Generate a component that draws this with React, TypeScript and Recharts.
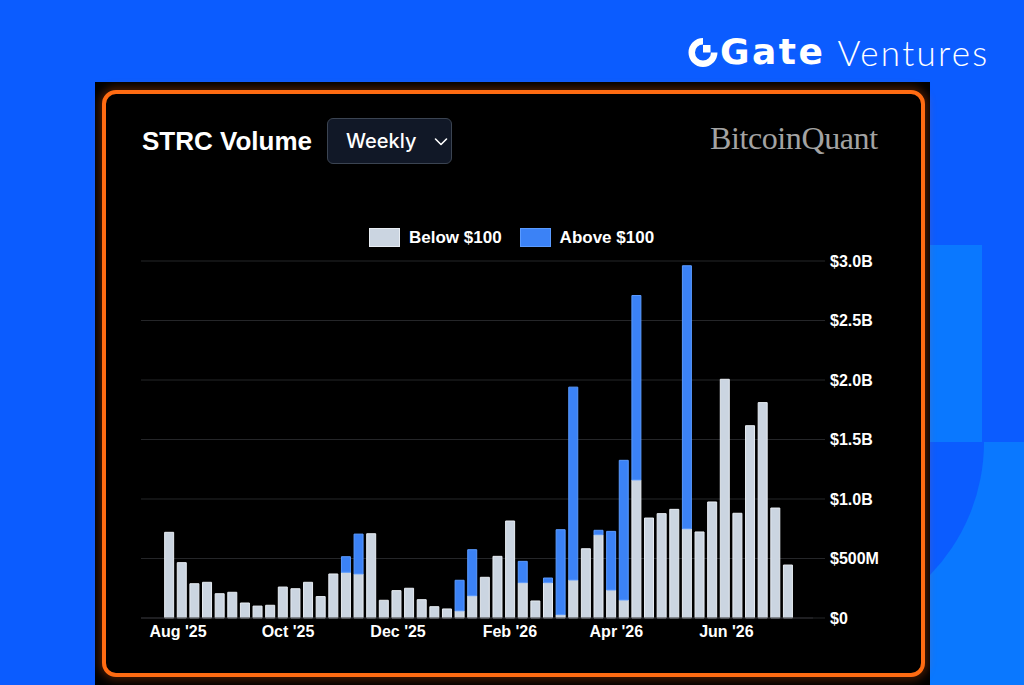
import { Bar, BarChart, CartesianGrid, XAxis, YAxis } from "recharts";

// weekly buckets (week starting), volumes in $M
const weeks = [
  "2025-07-27", "2025-08-03", "2025-08-10", "2025-08-17", "2025-08-24", "2025-08-31", "2025-09-07", "2025-09-14",
  "2025-09-21", "2025-09-28", "2025-10-05", "2025-10-12", "2025-10-19", "2025-10-26", "2025-11-02", "2025-11-09",
  "2025-11-16", "2025-11-23", "2025-11-30", "2025-12-07", "2025-12-14", "2025-12-21", "2025-12-28", "2026-01-04",
  "2026-01-11", "2026-01-18", "2026-01-25", "2026-02-01", "2026-02-08", "2026-02-15", "2026-02-22", "2026-03-01",
  "2026-03-08", "2026-03-15", "2026-03-22", "2026-03-29", "2026-04-05", "2026-04-12", "2026-04-19", "2026-04-26",
  "2026-05-03", "2026-05-10", "2026-05-17", "2026-05-24", "2026-05-31", "2026-06-07", "2026-06-14", "2026-06-21",
  "2026-06-28", "2026-07-05",
];

const belowPar = [
  720, 465, 288, 300, 204, 216, 126, 100, 107, 260, 246, 300, 180, 370, 384, 370,
  708, 149, 230, 250, 154, 95, 76, 60, 187, 342, 518, 815, 297, 143, 297, 28,
  319, 582, 700, 235, 151, 1160, 840, 877, 913, 750, 723, 975, 2006, 880, 1616, 1810,
  924, 445,
];

const abovePar = [
  0, 0, 0, 0, 0, 0, 0, 0, 0, 0, 0, 0, 0, 0, 131, 335,
  0, 0, 0, 0, 0, 0, 0, 257, 387, 0, 0, 0, 179, 0, 39, 714,
  1621, 0, 37, 493, 1174, 1550, 0, 0, 0, 2210, 0, 0, 0, 0, 0, 0,
  0, 0,
];

const monthTicks = ["2025-08-01", "2025-10-01", "2025-12-01", "2026-02-01", "2026-04-01", "2026-06-01"];
const valueTicks = [0, 500, 1000, 1500, 2000, 2500, 3000];
const xDomain = ["2025-07-11T12:00:00Z", "2026-07-19T00:00:00Z"];

const series = [
  { key: "below", name: "Below $100", fill: "#cbd5e1", stroke: "#e8edf3" },
  { key: "above", name: "Above $100", fill: "#3b82f6", stroke: "#5b9bff" },
];

const MONTHS = ["Jan", "Feb", "Mar", "Apr", "May", "Jun", "Jul", "Aug", "Sep", "Oct", "Nov", "Dec"];
const ts = (s: string) => new Date(s.length === 10 ? s + "T00:00:00Z" : s).getTime();

const data = weeks.map((w, i) => ({ t: ts(w), below: belowPar[i], above: abovePar[i] }));

function fmtMonth(v: number) {
  const d = new Date(v);
  return `${MONTHS[d.getUTCMonth()]} '${String(d.getUTCFullYear()).slice(2)}`;
}

function fmtVolume(v: number) {
  if (v === 0) return "$0";
  if (v < 1000) return `$${v}M`;
  return `$${(v / 1000).toFixed(1)}B`;
}

const FONT = "'Liberation Sans', Arial, sans-serif";

function GateLogo() {
  return (
    <div style={{ position: "absolute", left: 686, top: 30, height: 44, display: "flex", alignItems: "center" }}>
      <svg width={34} height={34} viewBox="0 0 34 34">
        <path d="M31.5 17.5 A14.5 14.5 0 1 1 17 3 L17 9.5 A8 8 0 1 0 25 17.5 Z" fill="#fff" />
        <rect x={17} y={10} width={7.5} height={7.5} fill="#fff" />
      </svg>
      <span style={{ fontFamily: "'DejaVu Sans', sans-serif", fontWeight: 700, fontSize: 36, color: "#fff", letterSpacing: 2.5, lineHeight: 1 }}>
        Gate
      </span>
      <span style={{ fontFamily: "Lato, sans-serif", fontWeight: 300, fontSize: 35, color: "#fff", letterSpacing: 2.3, marginLeft: 12, lineHeight: 1 }}>
        Ventures
      </span>
    </div>
  );
}

export default function App() {
  return (
    <div style={{ position: "relative", width: 1024, height: 685, overflow: "hidden", background: "#0b5cff", fontFamily: FONT }}>
      <style>{"body{margin:0}"}</style>

      <svg width={94} height={440} style={{ position: "absolute", left: 930, top: 245 }}>
        <defs>
          <clipPath id="lowerCell">
            <rect x={0} y={197} width={94} height={243} />
          </clipPath>
        </defs>
        <rect x={0} y={0} width={52} height={197} fill="#0a78ff" />
        <rect x={0} y={197} width={94} height={243} fill="#0a78ff" />
        <circle cx={-137} cy={197} r={191} fill="#0b5cff" clipPath="url(#lowerCell)" />
      </svg>

      <GateLogo />

      <div style={{ position: "absolute", left: 95, top: 82, width: 835, height: 610, background: "#000" }} />
      <div
        style={{
          position: "absolute",
          left: 102,
          top: 90,
          width: 823,
          height: 587,
          boxSizing: "border-box",
          border: "4px solid #ff6b12",
          borderRadius: 14,
          background: "#000",
          boxShadow: "0 0 9px 3px rgba(255, 96, 16, 0.28)",
        }}
      />

      <div style={{ position: "absolute", left: 142, top: 128, fontSize: 26, lineHeight: "26px", fontWeight: 700, color: "#fff" }}>
        STRC Volume
      </div>

      <div
        style={{
          position: "absolute",
          left: 327,
          top: 118,
          width: 125,
          height: 46,
          boxSizing: "border-box",
          border: "1px solid #3b4452",
          borderRadius: 6,
          background: "#111827",
        }}
      >
        <span style={{ position: "absolute", left: 18, top: 12, fontFamily: "Inter, sans-serif", fontWeight: 500, fontSize: 20, lineHeight: "20px", color: "#fff" }}>
          Weekly
        </span>
        <svg width={14} height={10} style={{ position: "absolute", left: 106, top: 18 }}>
          <polyline points="1.5,2 7,7.5 12.5,2" fill="none" stroke="#fff" strokeWidth={1.6} strokeLinecap="round" strokeLinejoin="round" />
        </svg>
      </div>

      <div style={{ position: "absolute", left: 710, top: 123, fontFamily: "'Liberation Serif', serif", fontSize: 32, lineHeight: "31px", color: "#a3a3a3", letterSpacing: -0.4 }}>
        BitcoinQuant
      </div>

      <div style={{ position: "absolute", left: 369, top: 228, display: "flex", alignItems: "center", height: 19 }}>
        {series.map((s, i) => (
          <div key={s.key} style={{ display: "flex", alignItems: "center", marginLeft: i === 0 ? 0 : 18 }}>
            <div style={{ width: 31, height: 19, boxSizing: "border-box", background: s.fill, border: `1px solid ${s.stroke}` }} />
            <span style={{ marginLeft: 9, fontSize: 17, fontWeight: 700, color: "#fff", lineHeight: "19px" }}>{s.name}</span>
          </div>
        ))}
      </div>

      <div style={{ position: "absolute", left: 120, top: 240 }}>
        <BarChart width={790} height={410} data={data} margin={{ top: 21, right: 17, left: 21, bottom: 2 }}>
          <CartesianGrid vertical={false} stroke="#252629" />
          <XAxis
            dataKey="t"
            type="number"
            domain={[ts(xDomain[0]), ts(xDomain[1])]}
            ticks={monthTicks.map(ts)}
            tickFormatter={fmtMonth}
            allowDataOverflow
            height={30}
            tickLine={false}
            axisLine={{ stroke: "#2c2d30" }}
            tick={{ fill: "#fff", fontSize: 16, fontWeight: 700, fontFamily: FONT }}
          />
          <YAxis
            orientation="right"
            width={80}
            domain={[0, 3000]}
            ticks={valueTicks}
            tickFormatter={fmtVolume}
            axisLine={false}
            tickLine={{ stroke: "#252629" }}
            tickSize={12}
            tickMargin={5}
            tick={{ fill: "#fff", fontSize: 16, fontWeight: 700, fontFamily: FONT }}
          />
          {series.map((s) => (
            <Bar
              key={s.key}
              dataKey={s.key}
              name={s.name}
              stackId="vol"
              barSize={9}
              fill={s.fill}
              stroke={s.stroke}
              strokeWidth={1}
              isAnimationActive={false}
            />
          ))}
        </BarChart>
      </div>
    </div>
  );
}
